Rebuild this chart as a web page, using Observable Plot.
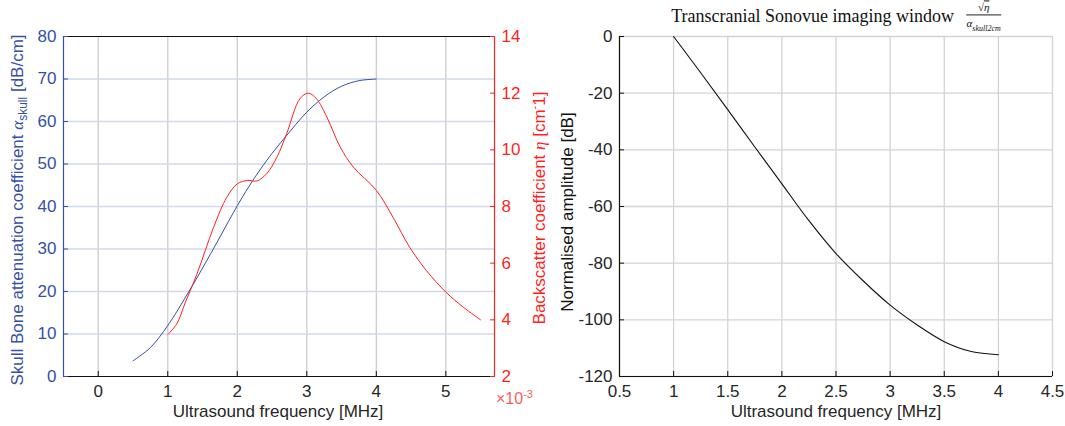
<!DOCTYPE html>
<html>
<head>
<meta charset="utf-8">
<script src="https://cdn.jsdelivr.net/npm/d3@7"></script>
<script src="https://cdn.jsdelivr.net/npm/@observablehq/plot@0.6"></script>
<style>
  html, body { margin: 0; padding: 0; background: #fff; }
  #root { position: relative; width: 1065px; height: 426px; font-family: "Liberation Sans", Arial, sans-serif; overflow: hidden; }
  .abs { position: absolute; white-space: nowrap; }
  .rot { transform: translate(-50%, -50%) rotate(-90deg); }
  .ctr { transform: translate(-50%, -50%); }
  .frac { display: inline-flex; flex-direction: column; align-items: center; vertical-align: middle; margin-left: 8px; font-size: 11px; line-height: 12px; }
  .frac .num { padding: 0 2px 1px 2px; }
  .frac .den { padding-top: 2px; border-top: 1px solid #222; }
</style>
</head>
<body>
<div id="root">
  <div id="left" class="abs" style="left:0;top:0"></div>
  <div id="right" class="abs" style="left:540px;top:0"></div>
</div>
<script>
// ---- Data ----
// Left panel: skull bone attenuation coefficient (dB/cm) vs frequency (MHz)
const freqAlpha = [0.5, 0.75, 1.0, 1.25, 1.5, 1.75, 2.0, 2.25, 2.5, 2.75, 3.0, 3.25, 3.5, 3.75, 4.0];
const alphaSkull = [3.7, 6.8, 12.0, 18.5, 25.5, 32.8, 40.2, 46.8, 52.5, 57.5, 62.2, 65.8, 68.3, 69.6, 70.0];
// Left panel: backscatter coefficient eta (x10^-3 cm^-1) vs frequency (MHz)
const freqEta = [1.0, 1.13, 1.25, 1.42, 1.66, 1.85, 2.0, 2.15, 2.28, 2.42, 2.57, 2.71, 2.9, 3.02, 3.14, 3.29, 3.48, 3.67, 4.0, 4.24, 4.48, 4.72, 5.0, 5.25, 5.5];
const eta = [3.48, 3.86, 4.6, 5.62, 7.27, 8.33, 8.8, 8.92, 8.9, 9.15, 9.74, 10.57, 11.8, 12.0, 11.8, 11.15, 10.1, 9.39, 8.57, 7.62, 6.56, 5.74, 4.98, 4.45, 4.0];
// Right panel: normalised amplitude (dB) vs frequency (MHz)
const freqWin = [1.0, 1.25, 1.5, 1.75, 2.0, 2.25, 2.5, 2.75, 3.0, 3.25, 3.5, 3.75, 4.0];
const amplitude = [0, -12.8, -25.8, -39, -52, -65, -76.6, -86.2, -94.8, -101.8, -107.7, -111.2, -112.3];

// Tick labels / axis settings
const leftXTicks = [0, 1, 2, 3, 4, 5];
const leftYTicks = [0, 10, 20, 30, 40, 50, 60, 70, 80];
const etaTicks = [2, 4, 6, 8, 10, 12, 14];
const rightXTicks = [0.5, 1, 1.5, 2, 2.5, 3, 3.5, 4, 4.5];
const rightYTicks = [-120, -100, -80, -60, -40, -20, 0];

const BLUE = "#3650a3";
const RED = "#ff1f1f";
const TXT = "#262626";
const FS = "17px";

// map eta onto the left y scale for the dual axis
const etaMin = 2, etaMax = 14, alphaMin = 0, alphaMax = 80;
const etaToY = e => alphaMin + (e - etaMin) * (alphaMax - alphaMin) / (etaMax - etaMin);
const yToEta = y => etaMin + (y - alphaMin) * (etaMax - etaMin) / (alphaMax - alphaMin);

const alphaData = freqAlpha.map((f, i) => ({f, v: alphaSkull[i]}));
const etaData = freqEta.map((f, i) => ({f, v: etaToY(eta[i])}));
const winData = freqWin.map((f, i) => ({f, v: amplitude[i]}));

const left = Plot.plot({
  width: 560, height: 426,
  marginLeft: 63, marginRight: 66, marginTop: 36, marginBottom: 50,
  style: {fontFamily: "Liberation Sans, Arial, sans-serif", fontSize: FS, background: "transparent"},
  x: {domain: [-0.5, 5.7]},
  y: {domain: [alphaMin, alphaMax]},
  marks: [
    Plot.gridX(leftXTicks, {stroke: "#cccccc", strokeOpacity: 1, strokeWidth: 1.3}),
    Plot.gridY(leftYTicks.filter(d => d > 0 && d < 80), {stroke: "#d2d8ee", strokeOpacity: 1, strokeWidth: 1.6}),
    Plot.line(alphaData, {x: "f", y: "v", stroke: BLUE, strokeWidth: 1, curve: "catmull-rom"}),
    Plot.line(etaData, {x: "f", y: "v", stroke: RED, strokeWidth: 1, curve: "catmull-rom"}),
    Plot.ruleY([alphaMax], {stroke: "#111", strokeWidth: 1.2}),
    Plot.ruleY([alphaMin], {stroke: "#111", strokeWidth: 1.2}),
    Plot.ruleX([-0.5], {stroke: BLUE, strokeWidth: 1.2}),
    Plot.ruleX([5.7], {stroke: RED, strokeWidth: 1.2}),
    Plot.axisX({ticks: leftXTicks, tickSize: -5, tickPadding: 13, stroke: "#111", color: TXT, label: null, tickFormat: d => String(d)}),
    Plot.axisY({anchor: "left", ticks: leftYTicks, tickSize: -5, tickPadding: 12, stroke: BLUE, color: BLUE, label: null}),
    Plot.axisY({anchor: "right", ticks: etaTicks.map(etaToY), tickSize: -5, tickPadding: 12, stroke: RED, color: RED, label: null, tickFormat: d => String(Math.round(yToEta(d)))})
  ]
});
document.getElementById("left").appendChild(left);

const right = Plot.plot({
  width: 525, height: 426,
  marginLeft: 79, marginRight: 13, marginTop: 36, marginBottom: 50,
  style: {fontFamily: "Liberation Sans, Arial, sans-serif", fontSize: FS, background: "transparent"},
  x: {domain: [0.5, 4.5]},
  y: {domain: [-120, 0]},
  marks: [
    Plot.gridX(rightXTicks, {stroke: "#d4d4d4", strokeOpacity: 1, strokeWidth: 1.3}),
    Plot.gridY(rightYTicks, {stroke: "#d4d4d4", strokeOpacity: 1, strokeWidth: 1.3}),
    Plot.line(winData, {x: "f", y: "v", stroke: "#111", strokeWidth: 1.1, curve: "catmull-rom"}),
    Plot.ruleY([-120], {stroke: "#111", strokeWidth: 1.2}),
    Plot.ruleX([0.5], {stroke: "#111", strokeWidth: 1.2}),
    Plot.axisX({ticks: rightXTicks, tickSize: -5, tickPadding: 13, stroke: "#111", color: TXT, label: null, tickFormat: d => String(d)}),
    Plot.axisY({anchor: "left", ticks: rightYTicks, tickSize: -5, tickPadding: 12, stroke: "#111", color: TXT, label: null, tickFormat: d => String(d)})
  ]
});
document.getElementById("right").appendChild(right);

// ---- Text labels ----
const root = document.getElementById("root");
function addLabel(html, x, y, cls, color, size, extra) {
  const d = document.createElement("div");
  d.className = "abs " + cls;
  d.style.left = x + "px";
  d.style.top = y + "px";
  d.style.color = color;
  d.style.fontSize = size;
  if (extra) Object.assign(d.style, extra);
  d.innerHTML = html;
  root.appendChild(d);
}
addLabel("Skull Bone attenuation coefficient <span style='font-family:Liberation Serif,serif;font-style:italic'>&alpha;</span><sub style='font-size:12px'>skull</sub> [dB/cm]", 19, 210, "rot", BLUE, "17px");
addLabel("Backscatter coefficient <span style='font-family:Liberation Serif,serif;font-style:italic'>&eta;</span> [cm<sup style='font-size:11px'>-</sup>1]", 539, 208, "rot", RED, "17px");
addLabel("&times;10<sup style='font-size:11px'>-3</sup>", 496, 388, "", RED, "16px", {opacity: 0.75});
addLabel("Ultrasound frequency [MHz]", 278, 412, "ctr", TXT, "17px");
addLabel("Normalised amplitude [dB]", 568, 212, "rot", "#111", "17px");
addLabel("Ultrasound frequency [MHz]", 836, 412, "ctr", TXT, "17px");
addLabel("Transcranial Sonovue imaging window <span class='frac'><span class='num'>&radic;<span style='text-decoration:overline;font-style:italic'>&eta;</span></span><span class='den'><i>&alpha;</i><sub style='font-size:8px;font-style:italic'>skull2cm</sub></span></span>", 836, 18, "ctr", "#111", "18px", {fontFamily: "'Liberation Serif', serif"});
</script>
</body>
</html>
